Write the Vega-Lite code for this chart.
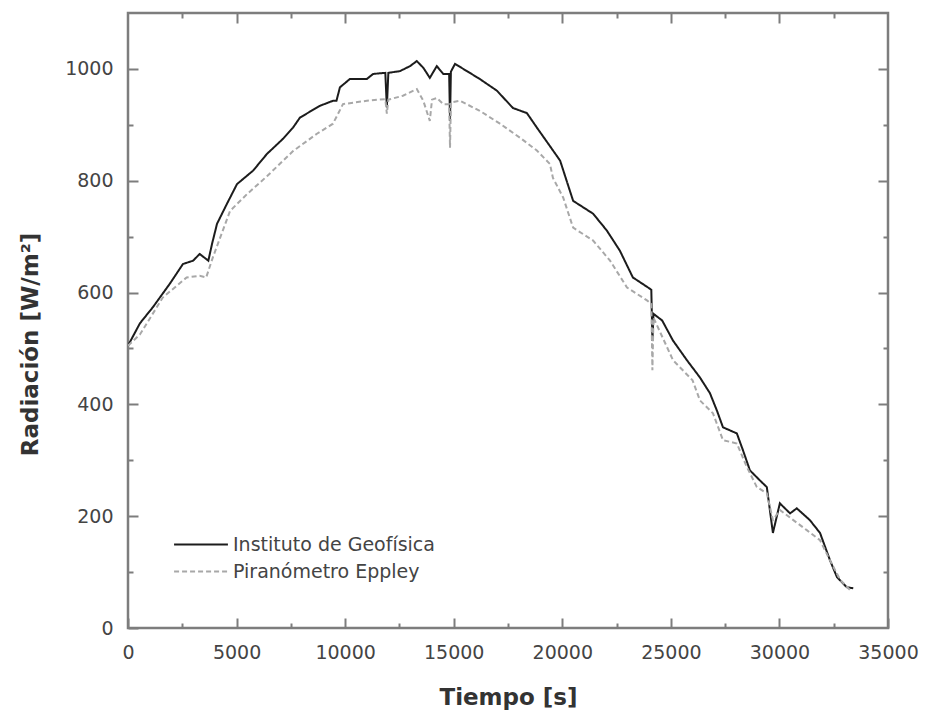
{
  "$schema": "https://vega.github.io/schema/vega-lite/v6.json",
  "width": 760,
  "height": 615,
  "autosize": {"type": "none"},
  "padding": {"left": 128, "top": 13, "right": 39, "bottom": 89},
  "background": "white",
  "config": {
    "font": "DejaVu Sans",
    "view": {"stroke": "#7d7d7d", "strokeWidth": 2.5},
    "axis": {"domain": false, "grid": false, "tickColor": "#7d7d7d", "tickWidth": 2, "labelFont": "DejaVu Sans", "labelColor": "#444444", "labelFontSize": 19, "titleFont": "DejaVu Sans", "titleColor": "#333333", "titleFontSize": 23, "titleFontWeight": "bold", "labelFlush": false, "labelOverlap": false}
  },
  "datasets": {
    "radiacion": [
      {"serie": "Instituto de Geofísica", "t": 0, "v": 505},
      {"serie": "Instituto de Geofísica", "t": 550, "v": 545},
      {"serie": "Instituto de Geofísica", "t": 1150, "v": 574},
      {"serie": "Instituto de Geofísica", "t": 1930, "v": 616},
      {"serie": "Instituto de Geofísica", "t": 2530, "v": 651},
      {"serie": "Instituto de Geofísica", "t": 3000, "v": 657},
      {"serie": "Instituto de Geofísica", "t": 3300, "v": 669},
      {"serie": "Instituto de Geofísica", "t": 3700, "v": 657},
      {"serie": "Instituto de Geofísica", "t": 3870, "v": 687},
      {"serie": "Instituto de Geofísica", "t": 4100, "v": 723},
      {"serie": "Instituto de Geofísica", "t": 4560, "v": 759},
      {"serie": "Instituto de Geofísica", "t": 5020, "v": 794},
      {"serie": "Instituto de Geofísica", "t": 5760, "v": 818},
      {"serie": "Instituto de Geofísica", "t": 6400, "v": 848},
      {"serie": "Instituto de Geofísica", "t": 7140, "v": 875},
      {"serie": "Instituto de Geofísica", "t": 7600, "v": 895},
      {"serie": "Instituto de Geofísica", "t": 7920, "v": 913},
      {"serie": "Instituto de Geofísica", "t": 8840, "v": 934},
      {"serie": "Instituto de Geofísica", "t": 9440, "v": 943},
      {"serie": "Instituto de Geofísica", "t": 9600, "v": 943},
      {"serie": "Instituto de Geofísica", "t": 9760, "v": 967},
      {"serie": "Instituto de Geofísica", "t": 10220, "v": 982},
      {"serie": "Instituto de Geofísica", "t": 11000, "v": 982},
      {"serie": "Instituto de Geofísica", "t": 11290, "v": 991},
      {"serie": "Instituto de Geofísica", "t": 11850, "v": 993},
      {"serie": "Instituto de Geofísica", "t": 11920, "v": 931},
      {"serie": "Instituto de Geofísica", "t": 11990, "v": 993},
      {"serie": "Instituto de Geofísica", "t": 12520, "v": 996},
      {"serie": "Instituto de Geofísica", "t": 12990, "v": 1005},
      {"serie": "Instituto de Geofísica", "t": 13300, "v": 1014},
      {"serie": "Instituto de Geofísica", "t": 13600, "v": 1002},
      {"serie": "Instituto de Geofísica", "t": 13900, "v": 984},
      {"serie": "Instituto de Geofísica", "t": 14220, "v": 1005},
      {"serie": "Instituto de Geofísica", "t": 14520, "v": 991},
      {"serie": "Instituto de Geofísica", "t": 14790, "v": 991},
      {"serie": "Instituto de Geofísica", "t": 14830, "v": 907},
      {"serie": "Instituto de Geofísica", "t": 14870, "v": 995},
      {"serie": "Instituto de Geofísica", "t": 15060, "v": 1009},
      {"serie": "Instituto de Geofísica", "t": 15610, "v": 996},
      {"serie": "Instituto de Geofísica", "t": 16200, "v": 982},
      {"serie": "Instituto de Geofísica", "t": 16990, "v": 961},
      {"serie": "Instituto de Geofísica", "t": 17730, "v": 930},
      {"serie": "Instituto de Geofísica", "t": 18370, "v": 921},
      {"serie": "Instituto de Geofísica", "t": 18830, "v": 895},
      {"serie": "Instituto de Geofísica", "t": 19430, "v": 862},
      {"serie": "Instituto de Geofísica", "t": 19900, "v": 836},
      {"serie": "Instituto de Geofísica", "t": 20200, "v": 800},
      {"serie": "Instituto de Geofísica", "t": 20500, "v": 764},
      {"serie": "Instituto de Geofísica", "t": 21420, "v": 741},
      {"serie": "Instituto de Geofísica", "t": 22050, "v": 711},
      {"serie": "Instituto de Geofísica", "t": 22650, "v": 675},
      {"serie": "Instituto de Geofísica", "t": 23250, "v": 627},
      {"serie": "Instituto de Geofísica", "t": 23950, "v": 609},
      {"serie": "Instituto de Geofísica", "t": 24100, "v": 605},
      {"serie": "Instituto de Geofísica", "t": 24150, "v": 514},
      {"serie": "Instituto de Geofísica", "t": 24200, "v": 562},
      {"serie": "Instituto de Geofísica", "t": 24600, "v": 550},
      {"serie": "Instituto de Geofísica", "t": 25100, "v": 514},
      {"serie": "Instituto de Geofísica", "t": 25740, "v": 479},
      {"serie": "Instituto de Geofísica", "t": 26340, "v": 448},
      {"serie": "Instituto de Geofísica", "t": 26800, "v": 420},
      {"serie": "Instituto de Geofísica", "t": 27120, "v": 389},
      {"serie": "Instituto de Geofísica", "t": 27400, "v": 359},
      {"serie": "Instituto de Geofísica", "t": 28040, "v": 348},
      {"serie": "Instituto de Geofísica", "t": 28320, "v": 318},
      {"serie": "Instituto de Geofísica", "t": 28640, "v": 282},
      {"serie": "Instituto de Geofísica", "t": 29100, "v": 264},
      {"serie": "Instituto de Geofísica", "t": 29420, "v": 252},
      {"serie": "Instituto de Geofísica", "t": 29700, "v": 170},
      {"serie": "Instituto de Geofísica", "t": 30020, "v": 223},
      {"serie": "Instituto de Geofísica", "t": 30490, "v": 205},
      {"serie": "Instituto de Geofísica", "t": 30800, "v": 214},
      {"serie": "Instituto de Geofísica", "t": 31400, "v": 193},
      {"serie": "Instituto de Geofísica", "t": 31870, "v": 170},
      {"serie": "Instituto de Geofísica", "t": 32330, "v": 121},
      {"serie": "Instituto de Geofísica", "t": 32650, "v": 91},
      {"serie": "Instituto de Geofísica", "t": 33100, "v": 73},
      {"serie": "Instituto de Geofísica", "t": 33400, "v": 71},
      {"serie": "Piranómetro Eppley", "t": 0, "v": 505},
      {"serie": "Piranómetro Eppley", "t": 550, "v": 525},
      {"serie": "Piranómetro Eppley", "t": 1600, "v": 591},
      {"serie": "Piranómetro Eppley", "t": 2700, "v": 627},
      {"serie": "Piranómetro Eppley", "t": 3300, "v": 630},
      {"serie": "Piranómetro Eppley", "t": 3600, "v": 627},
      {"serie": "Piranómetro Eppley", "t": 3900, "v": 662},
      {"serie": "Piranómetro Eppley", "t": 4700, "v": 746},
      {"serie": "Piranómetro Eppley", "t": 5480, "v": 776},
      {"serie": "Piranómetro Eppley", "t": 6400, "v": 808},
      {"serie": "Piranómetro Eppley", "t": 7600, "v": 853},
      {"serie": "Piranómetro Eppley", "t": 8700, "v": 884},
      {"serie": "Piranómetro Eppley", "t": 9440, "v": 902},
      {"serie": "Piranómetro Eppley", "t": 9900, "v": 937},
      {"serie": "Piranómetro Eppley", "t": 11000, "v": 943},
      {"serie": "Piranómetro Eppley", "t": 11850, "v": 946},
      {"serie": "Piranómetro Eppley", "t": 11920, "v": 920},
      {"serie": "Piranómetro Eppley", "t": 11990, "v": 945},
      {"serie": "Piranómetro Eppley", "t": 12660, "v": 952},
      {"serie": "Piranómetro Eppley", "t": 13300, "v": 964},
      {"serie": "Piranómetro Eppley", "t": 13600, "v": 943},
      {"serie": "Piranómetro Eppley", "t": 13900, "v": 907},
      {"serie": "Piranómetro Eppley", "t": 14000, "v": 945},
      {"serie": "Piranómetro Eppley", "t": 14220, "v": 948},
      {"serie": "Piranómetro Eppley", "t": 14520, "v": 937},
      {"serie": "Piranómetro Eppley", "t": 14790, "v": 937},
      {"serie": "Piranómetro Eppley", "t": 14830, "v": 859},
      {"serie": "Piranómetro Eppley", "t": 14870, "v": 940},
      {"serie": "Piranómetro Eppley", "t": 15290, "v": 943},
      {"serie": "Piranómetro Eppley", "t": 16200, "v": 925},
      {"serie": "Piranómetro Eppley", "t": 17130, "v": 902},
      {"serie": "Piranómetro Eppley", "t": 18050, "v": 877},
      {"serie": "Piranómetro Eppley", "t": 18830, "v": 854},
      {"serie": "Piranómetro Eppley", "t": 19430, "v": 830},
      {"serie": "Piranómetro Eppley", "t": 19570, "v": 805},
      {"serie": "Piranómetro Eppley", "t": 20040, "v": 770},
      {"serie": "Piranómetro Eppley", "t": 20500, "v": 716},
      {"serie": "Piranómetro Eppley", "t": 21420, "v": 693},
      {"serie": "Piranómetro Eppley", "t": 22200, "v": 657},
      {"serie": "Piranómetro Eppley", "t": 22980, "v": 609},
      {"serie": "Piranómetro Eppley", "t": 23900, "v": 586},
      {"serie": "Piranómetro Eppley", "t": 24100, "v": 580},
      {"serie": "Piranómetro Eppley", "t": 24150, "v": 461},
      {"serie": "Piranómetro Eppley", "t": 24200, "v": 555},
      {"serie": "Piranómetro Eppley", "t": 25100, "v": 479},
      {"serie": "Piranómetro Eppley", "t": 26000, "v": 443},
      {"serie": "Piranómetro Eppley", "t": 26340, "v": 407},
      {"serie": "Piranómetro Eppley", "t": 26940, "v": 384},
      {"serie": "Piranómetro Eppley", "t": 27400, "v": 336},
      {"serie": "Piranómetro Eppley", "t": 28040, "v": 330},
      {"serie": "Piranómetro Eppley", "t": 28500, "v": 288},
      {"serie": "Piranómetro Eppley", "t": 28960, "v": 252},
      {"serie": "Piranómetro Eppley", "t": 29420, "v": 241},
      {"serie": "Piranómetro Eppley", "t": 29700, "v": 193},
      {"serie": "Piranómetro Eppley", "t": 30020, "v": 211},
      {"serie": "Piranómetro Eppley", "t": 30640, "v": 193},
      {"serie": "Piranómetro Eppley", "t": 31260, "v": 175},
      {"serie": "Piranómetro Eppley", "t": 31870, "v": 157},
      {"serie": "Piranómetro Eppley", "t": 32330, "v": 121},
      {"serie": "Piranómetro Eppley", "t": 32800, "v": 86},
      {"serie": "Piranómetro Eppley", "t": 33250, "v": 68}
    ]
  },
  "data": {"name": "radiacion"},
  "resolve": {"axis": {"x": "independent", "y": "independent"}},
  "layer": [
    {
      "mark": {"type": "line", "strokeWidth": 2, "clip": true},
      "encoding": {
        "x": {"field": "t", "type": "quantitative", "scale": {"domain": [0, 35000], "nice": false, "zero": false},
          "axis": {"orient": "bottom", "values": [0, 5000, 10000, 15000, 20000, 25000, 30000, 35000], "format": "d", "tickSize": -10, "labelPadding": 25, "title": "Tiempo [s]", "titlePadding": 24}},
        "y": {"field": "v", "type": "quantitative", "scale": {"domain": [0, 1100], "nice": false},
          "axis": {"orient": "left", "values": [0, 200, 400, 600, 800, 1000], "format": "d", "tickSize": -10, "labelPadding": 25, "title": "Radiación [W/m²]", "titleX": -98, "titleY": 331, "titleAngle": -90, "titleAlign": "center", "titleBaseline": "middle"}},
        "color": {"field": "serie", "type": "nominal", "scale": {"domain": ["Instituto de Geofísica", "Piranómetro Eppley"], "range": ["#1c1c1c", "#a8a8a8"]},
          "legend": {"title": null, "orient": "none", "legendX": 45, "legendY": 518, "symbolType": "stroke", "symbolSize": 2900, "symbolStrokeWidth": 2, "labelFontSize": 19, "labelColor": "#444444", "labelFont": "DejaVu Sans", "labelLimit": 500, "clipHeight": 27, "rowPadding": 0, "labelOffset": 4, "padding": 0}},
        "strokeDash": {"field": "serie", "type": "nominal", "scale": {"domain": ["Instituto de Geofísica", "Piranómetro Eppley"], "range": [[1, 0], [5, 3]]},
          "legend": {"title": null, "orient": "none", "legendX": 45, "legendY": 518, "symbolType": "stroke", "symbolSize": 2900, "symbolStrokeWidth": 2, "labelFontSize": 19, "labelColor": "#444444", "labelFont": "DejaVu Sans", "labelLimit": 500, "clipHeight": 27, "rowPadding": 0, "labelOffset": 4, "padding": 0}}
      }
    },
    {
      "mark": {"type": "point", "opacity": 0},
      "encoding": {
        "x": {"field": "t", "type": "quantitative", "axis": {"orient": "bottom", "values": [2500, 7500, 12500, 17500, 22500, 27500, 32500], "labels": false, "tickSize": -5, "title": null}},
        "y": {"field": "v", "type": "quantitative", "axis": {"orient": "left", "values": [100, 300, 500, 700, 900], "labels": false, "tickSize": -5, "title": null}}
      }
    },
    {
      "mark": {"type": "point", "opacity": 0},
      "encoding": {
        "x": {"field": "t", "type": "quantitative", "axis": {"orient": "top", "values": [5000, 10000, 15000, 20000, 25000, 30000], "labels": false, "tickSize": -10, "title": null}},
        "y": {"field": "v", "type": "quantitative", "axis": {"orient": "right", "values": [200, 400, 600, 800, 1000], "labels": false, "tickSize": -10, "title": null}}
      }
    },
    {
      "mark": {"type": "point", "opacity": 0},
      "encoding": {
        "x": {"field": "t", "type": "quantitative", "axis": {"orient": "top", "values": [2500, 7500, 12500, 17500, 22500, 27500, 32500], "labels": false, "tickSize": -5, "title": null}},
        "y": {"field": "v", "type": "quantitative", "axis": {"orient": "right", "values": [100, 300, 500, 700, 900], "labels": false, "tickSize": -5, "title": null}}
      }
    }
  ]
}
